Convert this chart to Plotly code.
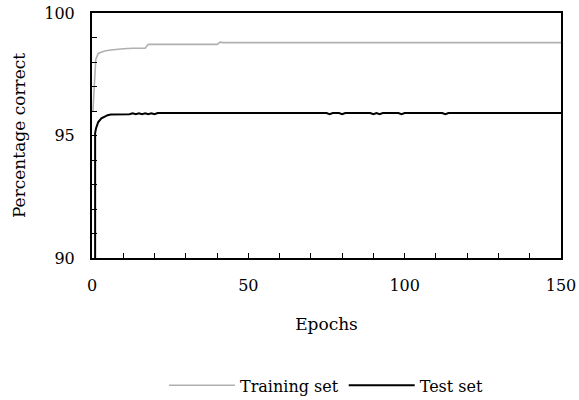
import plotly.graph_objects as go

# Training set curve
train_epochs = [0.3, 0.7, 1.2, 2, 3, 4, 6, 8, 10, 13, 17, 18, 25, 40, 41, 42, 60, 100, 150]
train_pct = [96.0, 97.2, 98.1, 98.35, 98.4, 98.45, 98.49, 98.52, 98.54, 98.56, 98.56, 98.72,
             98.72, 98.72, 98.81, 98.79, 98.79, 98.79, 98.79]

# Test set curve
test_epochs = [1, 1, 1.3, 2, 3, 4, 5, 6, 8, 12, 13, 14, 15, 16, 17, 18, 19, 20, 21, 22,
               75, 76, 77, 79, 80, 81, 89, 90, 91, 92, 93, 98, 99, 100, 112, 113, 114, 150]
test_pct = [90.0, 95.1, 95.3, 95.55, 95.7, 95.78, 95.83, 95.86, 95.87, 95.87, 95.91, 95.87,
            95.91, 95.87, 95.91, 95.87, 95.91, 95.87, 95.92, 95.92,
            95.92, 95.87, 95.92, 95.92, 95.87, 95.92, 95.92, 95.87, 95.92, 95.87, 95.92,
            95.92, 95.87, 95.92, 95.92, 95.87, 95.92, 95.92]

FONT = "DejaVu Serif"

fig = go.Figure()
fig.add_trace(go.Scatter(x=train_epochs, y=train_pct, mode="lines", name="Training set",
                         line=dict(color="#b0b0b0", width=1.6)))
fig.add_trace(go.Scatter(x=test_epochs, y=test_pct, mode="lines", name="Test set",
                         line=dict(color="black", width=2)))

fig.update_layout(
    width=579, height=400,
    margin=dict(l=92, r=18, t=13, b=142, autoexpand=False),
    plot_bgcolor="white", paper_bgcolor="white",
    font=dict(family=FONT, size=16, color="black"),
    showlegend=True,
    legend=dict(orientation="h", x=0.5, xanchor="center", y=-0.52, yanchor="middle",
                font=dict(family=FONT, size=16), itemwidth=66),
    xaxis=dict(range=[0, 150], dtick=50, tick0=0, ticks="inside", ticklen=5,
               tickcolor="black", showline=True, linecolor="black", linewidth=2,
               mirror=True, showgrid=False, zeroline=False, automargin=False,
               ticklabelstandoff=12, tickfont=dict(family=FONT, size=16),
               minor=dict(dtick=10, ticks="inside", ticklen=5, tickcolor="black"),
               title=dict(text="Epochs", standoff=24, font=dict(family=FONT, size=17))),
    yaxis=dict(range=[90, 100], dtick=5, tick0=90, ticks="inside", ticklen=5,
               tickcolor="black", showline=True, linecolor="black", linewidth=2,
               mirror=True, showgrid=False, zeroline=False, automargin=False,
               ticklabelstandoff=12, tickfont=dict(family=FONT, size=16),
               minor=dict(dtick=1, ticks="inside", ticklen=5, tickcolor="black"),
               title=dict(text="Percentage correct", standoff=14, font=dict(family=FONT, size=17))),
)

fig.write_html("out.html")
